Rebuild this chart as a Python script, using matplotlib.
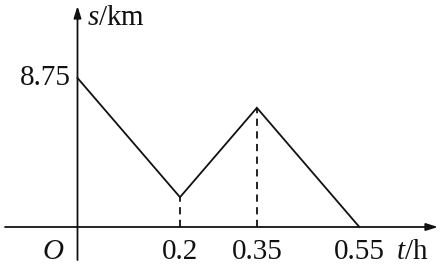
import matplotlib
matplotlib.use("Agg")
import matplotlib.pyplot as plt

# data
t_vals = [0, 0.2, 0.35, 0.55]
s_vals = [8.75, 1.75, 7, 0]
xtick_vals = [0.2, 0.35, 0.55]
xtick_labels = ["0.2", "0.35", "0.55"]
ytick_vals = [8.75]
ytick_labels = ["8.75"]
dashed_at = [0.2, 0.35]

plt.rcParams['mathtext.fontset'] = 'custom'
plt.rcParams['mathtext.rm'] = 'Liberation Serif'
plt.rcParams['mathtext.it'] = 'Liberation Serif:italic'
plt.rcParams['font.family'] = ['Liberation Serif', 'DejaVu Serif']

W, H = 442, 265
fig = plt.figure(figsize=(W / 100, H / 100), dpi=100)
ax = fig.add_axes([0, 0, 1, 1])
ax.axis('off')

# pixel mapping: origin at (77.5, 227), 512.5 px per h, 17.03 px per km
x0, y0, sx, sy = 77.5, 227.0, 512.5, 17.03
ax.set_xlim((0 - x0) / sx, (W - x0) / sx)
ax.set_ylim((y0 - H) / sy, (y0 - 0) / sy)

def px(x):
    return (x - x0) / sx

def py(y):
    return (y0 - y) / sy

lw = 1.3
col = '#111111'
# axes with arrows
ax.annotate('', xy=(px(438), 0), xytext=(px(5), 0),
            arrowprops=dict(arrowstyle='-|>,head_length=0.7,head_width=0.22',
                            lw=lw, color=col, shrinkA=0, shrinkB=0))
ax.annotate('', xy=(0, py(6)), xytext=(0, py(260)),
            arrowprops=dict(arrowstyle='-|>,head_length=0.7,head_width=0.22',
                            lw=lw, color=col, shrinkA=0, shrinkB=0))

# main line
ax.plot(t_vals, s_vals, color=col, lw=lw, solid_joinstyle='miter')

# dashed verticals
for tv in dashed_at:
    sv = s_vals[t_vals.index(tv)]
    ax.plot([tv, tv], [0, sv], color=col, lw=lw, ls=(0, (4, 3)))

fs = 21
base = 259
for v, lab in zip(xtick_vals, xtick_labels):
    ax.text(v, py(base), lab, ha='center', va='baseline', fontsize=fs, color=col)
for v, lab in zip(ytick_vals, ytick_labels):
    ax.text(px(71), v, lab, ha='right', va='center', fontsize=fs, color=col)

ax.text(px(42), py(base), r'$O$', ha='left', va='baseline', fontsize=fs, color=col)
ax.text(px(396), py(base), r'$t$/h', ha='left', va='baseline', fontsize=fs, color=col)
ax.text(px(87), py(25), r'$s$/km', ha='left', va='baseline', fontsize=fs, color=col)

fig.savefig('out.png', dpi=100)
